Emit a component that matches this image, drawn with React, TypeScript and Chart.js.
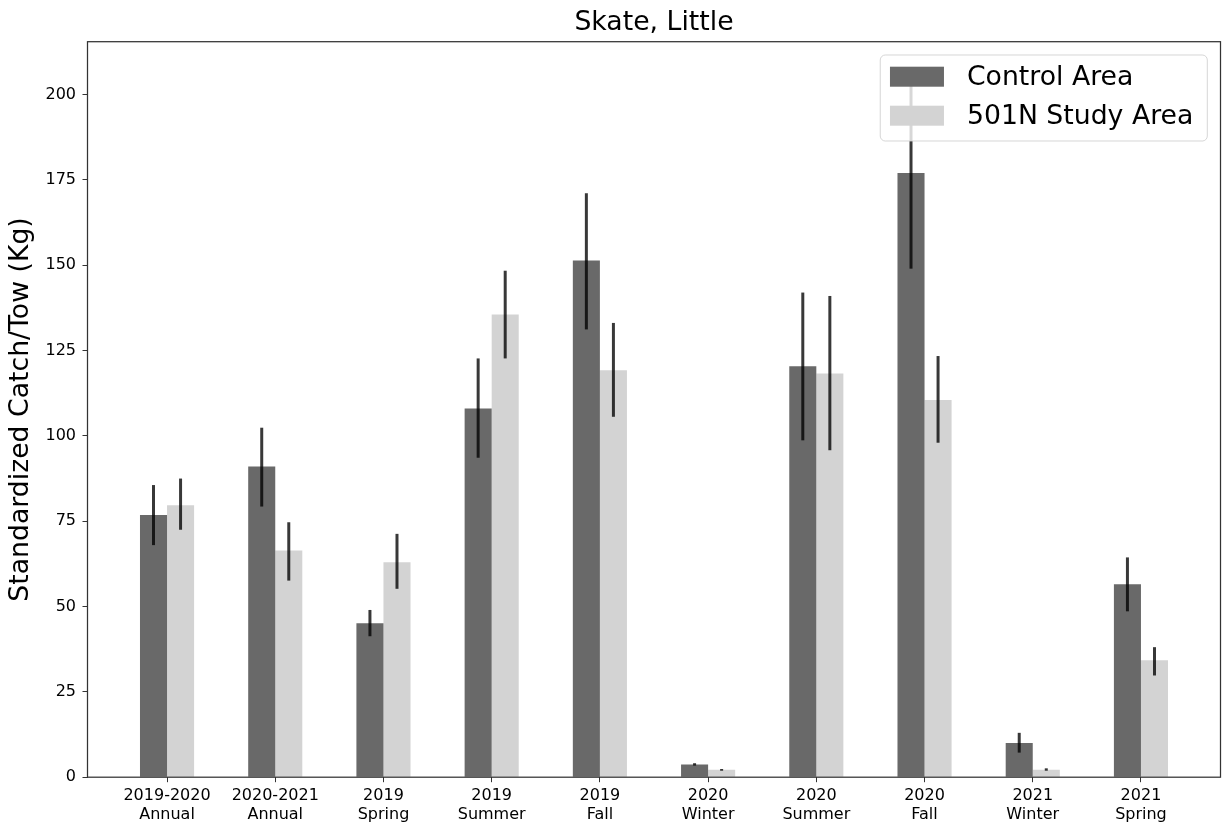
import React, { useEffect, useRef } from "react";
import { Chart, registerables } from "chart.js";

Chart.register(...registerables);

const TITLE = "Skate, Little";
const Y_LABEL = "Standardized Catch/Tow (Kg)";
const SERIES_NAMES = ["Control Area", "501N Study Area"];

const CATEGORIES: string[][] = [
  ["2019-2020", "Annual"],
  ["2020-2021", "Annual"],
  ["2019", "Spring"],
  ["2019", "Summer"],
  ["2019", "Fall"],
  ["2020", "Winter"],
  ["2020", "Summer"],
  ["2020", "Fall"],
  ["2021", "Winter"],
  ["2021", "Spring"],
];

const CONTROL = [76.8, 91.0, 45.1, 108.0, 151.4, 3.7, 120.4, 177.0, 10.0, 56.5];
const CONTROL_LOW = [68.0, 79.3, 41.3, 93.6, 131.2, 3.4, 98.7, 149.0, 7.2, 48.6];
const CONTROL_HIGH = [85.6, 102.4, 49.0, 122.7, 171.1, 4.1, 142.0, 205.0, 13.0, 64.4];

const STUDY = [79.7, 66.4, 63.0, 135.6, 119.2, 2.2, 118.3, 110.5, 2.2, 34.3];
const STUDY_LOW = [72.5, 57.6, 55.2, 122.7, 105.6, 1.9, 95.8, 98.0, 1.9, 29.8];
const STUDY_HIGH = [87.5, 74.7, 71.3, 148.4, 133.1, 2.4, 141.0, 123.4, 2.6, 38.1];

const Y_TICKS = [0, 25, 50, 75, 100, 125, 150, 175, 200];
const Y_MAX = 215.5;
const X_MIN = -0.735;
const X_MAX = 9.735;

const COLORS = ["#696969", "#d3d3d3"];
const FONT = "'DejaVu Sans', sans-serif";

const ERR_LOW = [CONTROL_LOW, STUDY_LOW];
const ERR_HIGH = [CONTROL_HIGH, STUDY_HIGH];

const overlayPlugin = {
  id: "overlay",
  afterDraw(chart: any) {
    const ctx = chart.ctx as CanvasRenderingContext2D;
    const area = chart.chartArea;
    const yScale = chart.scales.y;

    // error bars
    ctx.save();
    ctx.strokeStyle = "rgba(0,0,0,0.78)";
    ctx.lineWidth = 3;
    ctx.lineCap = "butt";
    for (let d = 0; d < chart.data.datasets.length; d++) {
      const meta = chart.getDatasetMeta(d);
      meta.data.forEach((bar: any, i: number) => {
        const y1 = yScale.getPixelForValue(ERR_LOW[d][i]);
        const y2 = yScale.getPixelForValue(ERR_HIGH[d][i]);
        const h = Math.max(Math.abs(y1 - y2), 1.5);
        const mid = (y1 + y2) / 2;
        ctx.beginPath();
        ctx.moveTo(bar.x, mid + h / 2);
        ctx.lineTo(bar.x, mid - h / 2);
        ctx.stroke();
      });
    }
    ctx.restore();

    // frame
    ctx.save();
    ctx.strokeStyle = "#333";
    ctx.lineWidth = 1.25;
    ctx.strokeRect(area.left, area.top, area.right - area.left, area.bottom - area.top);
    ctx.restore();

    // legend
    ctx.save();
    const fs = 26.7;
    ctx.font = `${fs}px ${FONT}`;
    const names = chart.data.datasets.map((ds: any) => ds.label);
    const textW = Math.max(...names.map((n: string) => ctx.measureText(n).width));
    const padL = 9.7, swW = 54, swH = 20, gap = 23, padR = 14;
    const boxW = padL + swW + gap + textW + padR;
    const boxH = 86;
    const boxR = area.right - 13.2;
    const boxL = boxR - boxW;
    const boxT = area.top + 13.3;
    const r = 5;
    ctx.beginPath();
    ctx.moveTo(boxL + r, boxT);
    ctx.lineTo(boxR - r, boxT);
    ctx.arcTo(boxR, boxT, boxR, boxT + r, r);
    ctx.lineTo(boxR, boxT + boxH - r);
    ctx.arcTo(boxR, boxT + boxH, boxR - r, boxT + boxH, r);
    ctx.lineTo(boxL + r, boxT + boxH);
    ctx.arcTo(boxL, boxT + boxH, boxL, boxT + boxH - r, r);
    ctx.lineTo(boxL, boxT + r);
    ctx.arcTo(boxL, boxT, boxL + r, boxT, r);
    ctx.closePath();
    ctx.fillStyle = "rgba(255,255,255,0.8)";
    ctx.fill();
    ctx.strokeStyle = "rgba(204,204,204,0.8)";
    ctx.lineWidth = 1;
    ctx.stroke();
    const rows = [boxT + 11.7, boxT + 50.7];
    names.forEach((n: string, i: number) => {
      ctx.fillStyle = COLORS[i];
      ctx.fillRect(boxL + padL, rows[i], swW, swH);
      ctx.fillStyle = "#000";
      ctx.textAlign = "left";
      ctx.textBaseline = "middle";
      ctx.fillText(n, boxL + padL + swW + gap, rows[i] + swH / 2 + 1);
    });
    ctx.restore();

    // title
    ctx.save();
    ctx.font = `${fs}px ${FONT}`;
    ctx.fillStyle = "#000";
    ctx.textAlign = "center";
    ctx.textBaseline = "alphabetic";
    ctx.fillText(TITLE, (area.left + area.right) / 2, 30);
    ctx.restore();
  },
};

export default function App() {
  const ref = useRef<HTMLCanvasElement | null>(null);

  useEffect(() => {
    if (!ref.current) return;
    Chart.defaults.color = "#000";
    Chart.defaults.font.family = FONT;
    const chart = new Chart(ref.current, {
      type: "bar",
      data: {
        datasets: [
          {
            label: SERIES_NAMES[0],
            data: CONTROL.map((v, i) => ({ x: i, y: v })),
            backgroundColor: COLORS[0],
            borderWidth: 0,
          },
          {
            label: SERIES_NAMES[1],
            data: STUDY.map((v, i) => ({ x: i, y: v })),
            backgroundColor: COLORS[1],
            borderWidth: 0,
          },
        ],
      },
      options: {
        responsive: false,
        animation: false,
        devicePixelRatio: 1,
        datasets: { bar: { categoryPercentage: 0.5, barPercentage: 1.0 } },
        layout: { padding: { top: 41.7, right: 4.5, left: 0, bottom: 0 } },
        plugins: {
          legend: { display: false },
          title: { display: false },
          tooltip: { enabled: false },
        },
        scales: {
          x: {
            type: "linear",
            min: X_MIN,
            max: X_MAX,
            offset: false,
            grid: {
              display: true,
              offset: false,
              drawOnChartArea: false,
              drawTicks: true,
              tickLength: 5,
              tickColor: "#333",
              tickWidth: 1,
            },
            border: { display: false },
            afterBuildTicks: (scale: any) => {
              scale.ticks = CATEGORIES.map((_, i) => ({ value: i }));
            },
            afterFit: (scale: any) => {
              scale.height = 51.8;
            },
            ticks: {
              autoSkip: false,
              maxRotation: 0,
              minRotation: 0,
              padding: 4,
              font: { size: 16, family: FONT, lineHeight: 1.2 },
              color: "#000",
              callback: (v: any) => CATEGORIES[Math.round(Number(v))] ?? "",
            },
          },
          y: {
            min: 0,
            max: Y_MAX,
            grid: {
              display: true,
              drawOnChartArea: false,
              drawTicks: true,
              tickLength: 5,
              tickColor: "#333",
              tickWidth: 1,
            },
            border: { display: false },
            afterBuildTicks: (scale: any) => {
              scale.ticks = Y_TICKS.map((v) => ({ value: v }));
            },
            afterFit: (scale: any) => {
              scale.width = 87.5;
            },
            ticks: {
              padding: 6.5,
              font: { size: 16, family: FONT },
              color: "#000",
            },
            title: {
              display: true,
              text: Y_LABEL,
              font: { size: 26.7, family: FONT, lineHeight: 1.2 },
              color: "#000",
              padding: { top: 5.5, bottom: 0 },
            },
          },
        },
      },
      plugins: [overlayPlugin],
    } as any);
    return () => chart.destroy();
  }, []);

  return (
    <canvas
      ref={ref}
      width={1225}
      height={829}
      style={{ position: "fixed", left: 0, top: 0, display: "block", background: "#fff" }}
    />
  );
}
